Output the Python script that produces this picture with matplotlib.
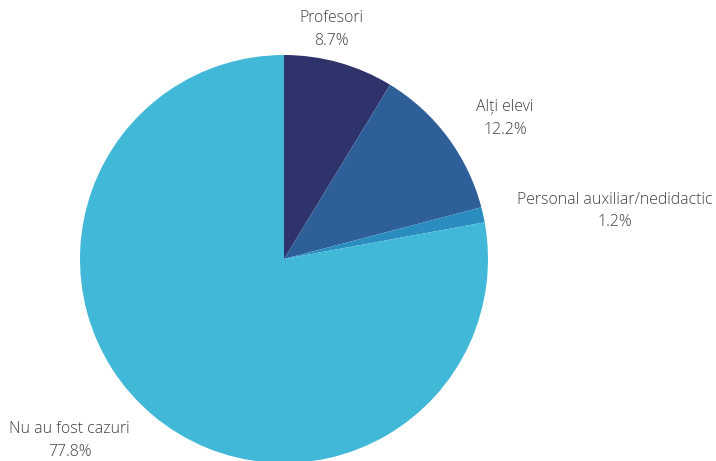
import matplotlib.pyplot as plt
import numpy as np

# date
categorii = ['Profesori', 'Alți elevi', 'Personal auxiliar/nedidactic', 'Nu au fost cazuri']
procente = [8.7, 12.2, 1.2, 77.8]
culori = ['#2e336b', '#2e5f98', '#2b8cc0', '#41b8d8']

# pozitiile etichetelor (in unitati de raza)
pozitii_etichete = [(0.23, 1.125), (1.083, 0.69), (1.62, 0.235), (-1.05, -0.89)]

fig = plt.figure(figsize=(7.16, 4.61), dpi=100)
cx, cy, r = 284, 259, 204
ax = fig.add_axes([(cx - r) / 716, (461 - cy - r) / 461, 2 * r / 716, 2 * r / 461])

ax.pie(procente, colors=culori, startangle=90, counterclock=False,
       wedgeprops={'linewidth': 0})
ax.set_xlim(-1, 1)
ax.set_ylim(-1, 1)
ax.set_aspect('equal')
ax.axis('off')

for nume, p, (x, y) in zip(categorii, procente, pozitii_etichete):
    ax.text(x, y, f'{nume}\n{p}%', ha='center', va='center', fontsize=11.4,
            family=['Open Sans', 'DejaVu Sans'], fontweight='light', color='#404040',
            linespacing=1.55, clip_on=False)

fig.savefig('out.png', dpi=100)
